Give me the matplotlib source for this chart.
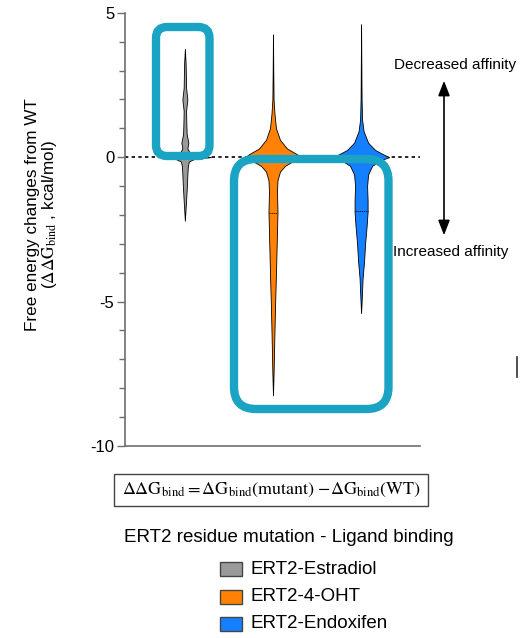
import numpy as np
import matplotlib
matplotlib.use("Agg")
import matplotlib.pyplot as plt
from matplotlib.patches import FancyBboxPatch, Rectangle

plt.rcParams['font.family'] = ['Liberation Sans', 'DejaVu Sans']
plt.rcParams['mathtext.fontset'] = 'stix'

# ligands and colours
ligands = ['ERT2-Estradiol', 'ERT2-4-OHT', 'ERT2-Endoxifen']
colors = ['#9a9a9a', '#ff8207', '#1480ff']

# violin outlines: ddG value -> half width (px of the original)
gray_y = [3.75, 3.2, 2.4, 2.0, 1.6, 1.1, 0.8, 0.5, 0.3, 0.15, 0.05, 0.0, -0.05, -0.15, -0.3, -0.6, -1.0, -1.5, -2.2]
gray_w = [0, 0.8, 1.2, 2.5, 1.2, 1.5, 1.8, 3.5, 2.5, 5, 18, 26, 10, 4, 3, 2.5, 2, 1.2, 0]
orange_y = [4.25, 3.0, 2.0, 1.5, 1.0, 0.6, 0.3, 0.1, 0.0, -0.1, -0.3, -0.5, -0.8, -1.2, -1.9, -2.6, -3.3, -4.0, -5.0, -6.0, -6.8, -7.5, -8.25]
orange_w = [0, 0.3, 0.6, 1.5, 3, 7, 14, 24, 28, 22, 12, 7, 4.5, 4, 4.5, 4, 3.5, 3, 2.2, 1.5, 1, 0.6, 0]
blue_y = [4.6, 3.0, 2.0, 1.3, 0.9, 0.5, 0.25, 0.1, 0.0, -0.1, -0.3, -0.6, -1.0, -1.5, -1.9, -2.4, -3.0, -3.6, -4.2, -4.8, -5.4]
blue_w = [0, 0.3, 0.5, 1, 2.5, 7, 14, 22, 28, 20, 11, 7, 6, 6.5, 6.5, 5.5, 4, 3, 1.5, 0.8, 0]
medians = [None, -1.95, -1.85]

profiles = [(gray_y, gray_w), (orange_y, orange_w), (blue_y, blue_w)]

fig = plt.figure(figsize=(5.2, 6.38), dpi=100)
ax = fig.add_axes([0.240, 0.301, 0.568, 0.679])

px = 88.0  # px per category unit
for i, ((ys, ws), c) in enumerate(zip(profiles, colors)):
    pos = i + 1
    ys = np.array(ys)
    ws = np.array(ws) / px
    ax.fill_betweenx(ys, pos - ws, pos + ws, facecolor=c, edgecolor='black', linewidth=0.6, zorder=3)
    if medians[i] is not None:
        w = np.interp(medians[i], ys[::-1], ws[::-1])
        ax.plot([pos - w, pos + w], [medians[i]] * 2, color='black', lw=0.6, ls=(0, (1.5, 1)), zorder=4)

ax.axhline(0, color='black', lw=1.2, ls=(0, (2, 2)), zorder=2)

ax.set_xlim(1 - 60 / px, 3 + 59 / px)
ax.set_ylim(-10, 5)
ax.set_yticks([5, 0, -5, -10])
ax.set_yticks(np.arange(-10, 6, 1), minor=True)
ax.set_yticklabels(['5', '0', '-5', '-10'], fontsize=12)
ax.set_xticks([])
for s in ['top', 'right']:
    ax.spines[s].set_visible(False)
for s in ['left', 'bottom']:
    ax.spines[s].set_color('#6e6e6e')
    ax.spines[s].set_linewidth(1.2)
ax.tick_params(axis='y', which='major', length=6, width=1.0, color='#6e6e6e', pad=1.5)
ax.tick_params(axis='y', which='minor', length=4, width=1.0, color='#6e6e6e')

# overlay in pixel coordinates for annotations
ov = fig.add_axes([0, 0, 1, 1], zorder=10)
ov.set_xlim(0, 520)
ov.set_ylim(638, 0)
ov.axis('off')
ov.patch.set_alpha(0)

ov.text(42, 215, 'Free energy changes from WT\n' + r'($\Delta\Delta\mathrm{G}_{\mathrm{bind}}$ , kcal/mol)',
        rotation=90, ha='center', va='center', multialignment='center', fontsize=12.3, linespacing=1.0)

teal = '#1ba3c3'
ov.add_patch(FancyBboxPatch((156, 27), 53.5, 129, boxstyle='round,pad=0,rounding_size=11',
                            fill=False, ec=teal, lw=6))
ov.add_patch(FancyBboxPatch((234, 159), 154.5, 250, boxstyle='round,pad=0,rounding_size=22',
                            fill=False, ec=teal, lw=6))

ov.annotate('', xy=(444, 78), xytext=(444, 238),
            arrowprops=dict(arrowstyle='<|-|>,head_length=0.9,head_width=0.35', color='black', lw=1.2))
ov.text(455, 65, 'Decreased affinity', ha='center', va='center', fontsize=11)
ov.text(451, 252, 'Increased affinity', ha='center', va='center', fontsize=11)
ov.plot([517, 517], [357, 377], color='#333333', lw=1.2)

ov.text(271, 490, r'$\Delta\Delta \mathrm{G}_{\mathrm{bind}} = \Delta \mathrm{G}_{\mathrm{bind}}(\mathrm{mutant})\ \mathrm{-}\Delta \mathrm{G}_{\mathrm{bind}}(\mathrm{WT})$',
        ha='center', va='center', fontsize=13,
        bbox=dict(boxstyle='square,pad=0.4', fc='white', ec='#444444', lw=1.0))

ov.text(289, 538, 'ERT2 residue mutation - Ligand binding', ha='center', va='center', fontsize=13.5)
for k, (lab, c) in enumerate(zip(ligands, colors)):
    yc = 569 + 27.5 * k
    ov.add_patch(Rectangle((220, yc - 7), 22, 14, fc=c, ec='#444444', lw=1.0))
    ov.text(250, yc, lab, ha='left', va='center', fontsize=13.5)

fig.savefig('out.png', dpi=100)
